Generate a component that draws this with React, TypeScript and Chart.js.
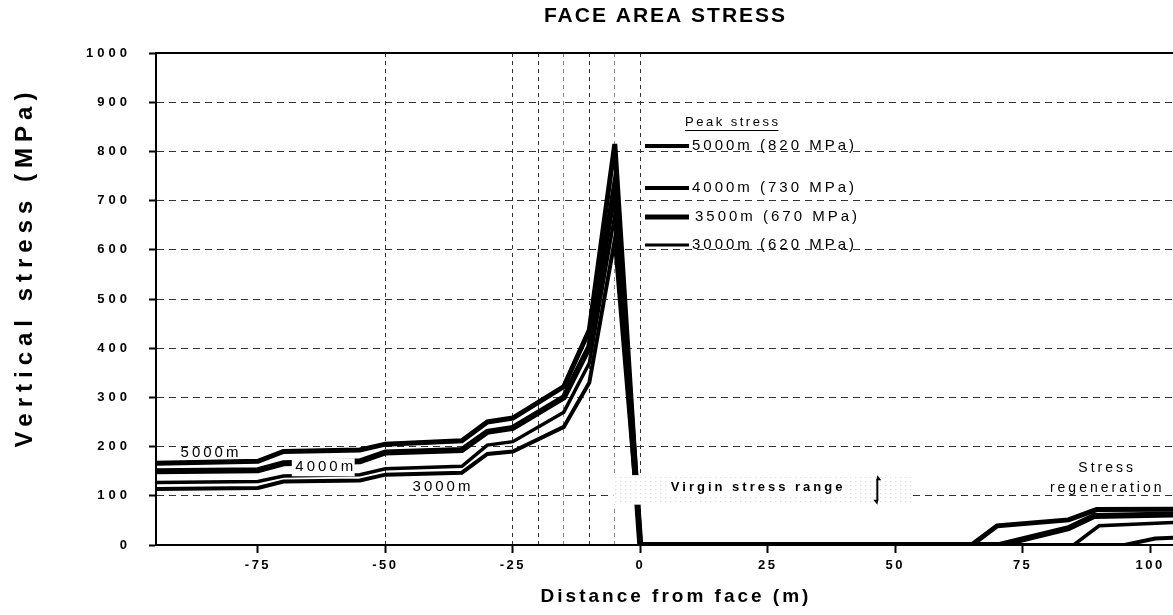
import React, { useEffect, useRef } from "react";
import { Chart, registerables } from "chart.js";

Chart.register(...registerables);

// ---- data (distance from face in m, vertical stress in MPa) ----
const seriesNames = ["5000m", "4000m", "3500m", "3000m"];
const peakLegend = ["5000m (820 MPa)", "4000m (730 MPa)", "3500m (670 MPa)", "3000m (620 MPa)"];

const dist5000 = [-95, -75, -70, -55, -50, -35, -30, -25, -15, -10, -5, 0, 65, 70, 84, 89.5, 110];
const stress5000 = [166, 170, 190, 193, 205, 212, 250, 258, 322, 437, 815, 0, 0, 39, 51, 72, 73];

const dist4000 = [-95, -75, -70, -55, -50, -35, -30, -25, -15, -10, -5, 0, 70.5, 84, 89, 110];
const stress4000 = [150, 152, 166, 170, 188, 193, 230, 238, 300, 403, 730, 0, 0, 34, 59, 63];

const dist3500 = [-95, -75, -70, -55, -50, -35, -30, -25, -15, -10, -5, 0, 85, 90, 110];
const stress3500 = [127, 129, 140, 143, 155, 160, 203, 210, 270, 370, 670, 0, 0, 39, 48];

const dist3000 = [-95, -75, -70, -55, -50, -35, -30, -25, -15, -10, -5, 0, 95, 101, 110];
const stress3000 = [114, 116, 129, 131, 143, 147, 185, 190, 240, 330, 620, 0, 0, 13, 17];

const lineWidths = [5, 6, 3.5, 4];
const legendWidths = [4, 4, 5, 3];

const xTickValues = [-75, -50, -25, 0, 25, 50, 75, 100];
const xGridValues = [-50, -25, -20, -15, -10, -5, 0];
const xMin = -95;
const xMax = 104.5;
const yMin = 0;
const yMax = 1000;
const yStep = 100;

const FONT = "'Liberation Sans', Arial, Helvetica, sans-serif";

function toPoints(xs: number[], ys: number[]) {
  return xs.map((x, i) => ({ x, y: ys[i] }));
}

function drawText(
  ctx: CanvasRenderingContext2D,
  s: string,
  x: number,
  y: number,
  font: string,
  spacing: number,
  align: CanvasTextAlign = "left",
  bg?: boolean
) {
  ctx.save();
  ctx.font = font;
  (ctx as any).letterSpacing = spacing + "px";
  ctx.textAlign = align;
  ctx.textBaseline = "middle";
  const dx = align === "center" ? spacing / 2 : align === "right" ? spacing : 0;
  if (bg) {
    const w = ctx.measureText(s).width;
    let left = x;
    if (align === "center") left = x - w / 2;
    if (align === "right") left = x - w;
    ctx.fillStyle = "#fff";
    ctx.fillRect(left - 2, y - 9, w + 2, 18);
  }
  ctx.fillStyle = "#000";
  ctx.fillText(s, x + dx, y);
  ctx.restore();
}

function withSpacing(scale: any, spacing: string) {
  if (scale._spacingWrapped) return;
  scale._spacingWrapped = true;
  const orig = scale.drawLabels;
  scale.drawLabels = function (area: any) {
    const ctx = this.ctx;
    const prev = ctx.letterSpacing;
    ctx.letterSpacing = spacing;
    orig.call(this, area);
    ctx.letterSpacing = prev;
  };
}

const annotations = {
  id: "annotations",
  beforeLayout(chart: any) {
    chart.ctx.letterSpacing = "4px";
  },
  beforeDraw(chart: any) {
    chart.ctx.letterSpacing = "4px";
  },
  afterDatasetsDraw(chart: any) {
    const ctx: CanvasRenderingContext2D = chart.ctx;
    const { chartArea } = chart;
    const xs = chart.scales.x;
    const ys = chart.scales.y;

    // solid top frame line
    ctx.save();
    ctx.strokeStyle = "#000";
    ctx.lineWidth = 2;
    ctx.beginPath();
    ctx.moveTo(chartArea.left, ys.getPixelForValue(yMax));
    ctx.lineTo(chartArea.right, ys.getPixelForValue(yMax));
    ctx.stroke();
    ctx.restore();

    // virgin stress range box (white with light stipple)
    const bx1 = xs.getPixelForValue(-5.3);
    const bx2 = xs.getPixelForValue(53);
    const by1 = ys.getPixelForValue(142);
    const by2 = ys.getPixelForValue(82);
    ctx.save();
    ctx.fillStyle = "#fff";
    ctx.fillRect(bx1, by1, bx2 - bx1, by2 - by1);
    ctx.fillStyle = "rgba(0,0,0,0.2)";
    for (let yy = by1 + 2; yy < by2; yy += 4) {
      for (let xx = bx1 + ((yy / 4) % 2 ? 2 : 0); xx < bx2; xx += 5) {
        ctx.fillRect(xx, yy, 1, 1);
      }
    }
    ctx.restore();

    drawText(ctx, "Virgin stress range", xs.getPixelForValue(6), ys.getPixelForValue(117), "bold 13px " + FONT, 3, "left", true);

    // double arrow
    const ax = xs.getPixelForValue(46.5);
    const ay1 = ys.getPixelForValue(142);
    const ay2 = ys.getPixelForValue(82);
    ctx.save();
    ctx.strokeStyle = "#000";
    ctx.fillStyle = "#000";
    ctx.lineWidth = 2;
    ctx.beginPath();
    ctx.moveTo(ax, ay1 + 4);
    ctx.lineTo(ax, ay2 - 4);
    ctx.stroke();
    ctx.beginPath();
    ctx.moveTo(ax, ay1);
    ctx.lineTo(ax + 4, ay1 + 5);
    ctx.lineTo(ax - 1, ay1 + 5);
    ctx.closePath();
    ctx.fill();
    ctx.beginPath();
    ctx.moveTo(ax, ay2);
    ctx.lineTo(ax - 4, ay2 - 5);
    ctx.lineTo(ax + 1, ay2 - 5);
    ctx.closePath();
    ctx.fill();
    ctx.restore();

    // curve labels
    const lf = "15px " + FONT;
    drawText(ctx, seriesNames[0], xs.getPixelForValue(-84.5), ys.getPixelForValue(188), lf, 3, "center");
    drawText(ctx, seriesNames[1], xs.getPixelForValue(-62), ys.getPixelForValue(158), lf, 3, "center", true);
    drawText(ctx, seriesNames[3], xs.getPixelForValue(-39), ys.getPixelForValue(119), lf, 3, "center");

    // stress regeneration
    drawText(ctx, "Stress", xs.getPixelForValue(91.3), ys.getPixelForValue(156), "14px " + FONT, 3, "center");
    drawText(ctx, "regeneration", xs.getPixelForValue(91.3), ys.getPixelForValue(115), "14px " + FONT, 3, "center");

    // peak stress legend
    const pf = "13px " + FONT;
    ctx.save();
    ctx.font = pf;
    (ctx as any).letterSpacing = "2.5px";
    const pw = ctx.measureText("Peak stress").width;
    ctx.restore();
    drawText(ctx, "Peak stress", 685, 122, pf, 2.5, "left");
    ctx.save();
    ctx.strokeStyle = "#000";
    ctx.lineWidth = 1;
    ctx.beginPath();
    ctx.moveTo(685, 130.5);
    ctx.lineTo(685 + pw - 2, 130.5);
    ctx.stroke();
    ctx.restore();

    const legY = [146, 188, 217, 245];
    peakLegend.forEach((s, i) => {
      ctx.save();
      ctx.strokeStyle = "#000";
      ctx.lineWidth = legendWidths[i];
      ctx.beginPath();
      ctx.moveTo(645, legY[i]);
      ctx.lineTo(689, legY[i]);
      ctx.stroke();
      ctx.restore();
      drawText(ctx, s, i === 2 ? 695 : 692, legY[i], "15px " + FONT, 3, "left");
    });
  },
  afterDraw(chart: any) {
    const ctx: CanvasRenderingContext2D = chart.ctx;
    const { chartArea } = chart;
    const cx = (chartArea.left + chartArea.right) / 2;
    drawText(ctx, "FACE AREA STRESS", cx, 16, "bold 21px " + FONT, 2, "center");
    drawText(ctx, "Distance from face (m)", cx + 10, 597, "bold 19px " + FONT, 3, "center");
    ctx.save();
    ctx.translate(25, 270);
    ctx.rotate(-Math.PI / 2);
    drawText(ctx, "Vertical stress (MPa)", 0, 0, "bold 24px " + FONT, 6, "center");
    ctx.restore();
  },
};

export default function App() {
  const ref = useRef<HTMLCanvasElement | null>(null);

  useEffect(() => {
    if (!ref.current) return;
    const allX = Array.from(new Set([...xTickValues, ...xGridValues])).sort((a, b) => a - b);
    const sets = [
      toPoints(dist5000, stress5000),
      toPoints(dist4000, stress4000),
      toPoints(dist3500, stress3500),
      toPoints(dist3000, stress3000),
    ];
    const chart = new Chart(ref.current, {
      type: "line",
      data: {
        datasets: sets.map((d, i) => ({
          label: seriesNames[i],
          data: d,
          borderColor: "#000",
          backgroundColor: "#000",
          borderWidth: lineWidths[i],
          pointRadius: 0,
          tension: 0,
          fill: false,
        })),
      },
      options: {
        animation: false,
        responsive: false,
        parsing: true,
        layout: { padding: { top: 53, left: 0, right: 0, bottom: 0 } },
        plugins: {
          legend: { display: false },
          title: { display: false },
          tooltip: { enabled: false },
        },
        scales: {
          x: {
            type: "linear",
            min: xMin,
            max: xMax,
            afterFit: (s: any) => {
              s.height = 70;
              withSpacing(s, "2.5px");
            },
            afterBuildTicks: (s: any) => {
              s.ticks = allX.map((v) => ({ value: v }));
            },
            ticks: {
              autoSkip: false,
              maxRotation: 0,
              color: "#000",
              padding: 5,
              font: { family: FONT, size: 13, weight: "bold" },
              callback: (v: any) => (xTickValues.includes(Number(v)) ? String(v) : ""),
            },
            grid: {
              color: (c: any) => {
                const v = c.tick ? c.tick.value : null;
                if (!xGridValues.includes(v)) return "rgba(0,0,0,0)";
                return v === -15 || v === -5 ? "#888" : "#333";
              },
              lineWidth: 1,
              tickColor: (c: any) => (c.tick && xTickValues.includes(c.tick.value) ? "#000" : "rgba(0,0,0,0)"),
              tickLength: 8,
              tickWidth: 2,
              tickBorderDash: [],
            },
            border: { display: true, color: "#000", width: 2, dash: [4, 4] },
          },
          y: {
            type: "linear",
            min: yMin,
            max: yMax,
            afterFit: (s: any) => {
              s.width = 156;
            },
            ticks: {
              stepSize: yStep,
              color: "#000",
              padding: 18,
              font: { family: FONT, size: 13, weight: "bold" },
              callback: (v: any) => String(v),
            },
            grid: {
              color: "#333",
              lineWidth: 1,
              tickColor: "#000",
              tickLength: 7,
              tickWidth: 2,
              tickBorderDash: [],
            },
            border: { display: true, color: "#000", width: 2, dash: [7, 5] },
          },
        },
      },
      plugins: [annotations],
    } as any);
    return () => chart.destroy();
  }, []);

  return (
    <div style={{ position: "fixed", left: 0, top: 0, width: 1173, height: 615, background: "#fff" }}>
      <canvas ref={ref} width={1173} height={615} style={{ display: "block" }} />
    </div>
  );
}
